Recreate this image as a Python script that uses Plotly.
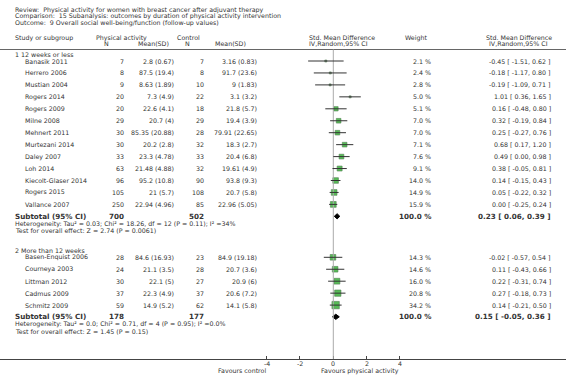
import plotly.graph_objects as go

# ---------------- data ----------------
titles = [
    "Review:  Physical activity for women with breast cancer after adjuvant therapy",
    "Comparison:  15 Subanalysis: outcomes by duration of physical activity intervention",
    "Outcome:  9 Overall social well-being/function (follow-up values)",
]

g1_name = "1 12 weeks or less"
g1_studies = ["Banasik 2011", "Herrero 2006", "Mustian 2004", "Rogers 2014", "Rogers 2009",
              "Milne 2008", "Mehnert 2011", "Murtezani 2014", "Daley 2007", "Loh 2014",
              "Kiecolt-Glaser 2014", "Rogers 2015", "Vallance 2007"]
g1_pa_n = [7, 8, 9, 20, 20, 29, 30, 30, 33, 63, 96, 105, 250]
g1_pa_msd = ["2.8 (0.67)", "87.5 (19.4)", "8.63 (1.89)", "7.3 (4.9)", "22.6 (4.1)", "20.7 (4)",
             "85.35 (20.88)", "20.2 (2.8)", "23.3 (4.78)", "21.48 (4.88)", "95.2 (10.8)",
             "21 (5.7)", "22.94 (4.96)"]
g1_c_n = [7, 8, 10, 22, 18, 29, 28, 32, 33, 32, 90, 108, 85]
g1_c_msd = ["3.16 (0.83)", "91.7 (23.6)", "9 (1.83)", "3.1 (3.2)", "21.8 (5.7)", "19.4 (3.9)",
            "79.91 (22.65)", "18.3 (2.7)", "20.4 (6.8)", "19.61 (4.9)", "93.8 (9.3)",
            "20.7 (5.8)", "22.96 (5.05)"]
g1_weight = [2.1, 2.4, 2.8, 5.0, 5.1, 7.0, 7.0, 7.1, 7.6, 9.1, 14.0, 14.9, 15.9]
g1_est = [-0.45, -0.18, -0.19, 1.01, 0.16, 0.32, 0.25, 0.68, 0.49, 0.38, 0.14, 0.05, 0.00]
g1_lo = [-1.51, -1.17, -1.09, 0.36, -0.48, -0.19, -0.27, 0.17, 0.00, -0.05, -0.15, -0.22, -0.25]
g1_hi = [0.62, 0.80, 0.71, 1.65, 0.80, 0.84, 0.76, 1.20, 0.98, 0.81, 0.43, 0.32, 0.24]
g1_tot = {"pa_n": 700, "c_n": 502, "est": 0.23, "lo": 0.06, "hi": 0.39}
g1_het = "Heterogeneity: Tau² = 0.03; Chi² = 18.26, df = 12 (P = 0.11); I² =34%"
g1_test = "Test for overall effect: Z = 2.74 (P = 0.0061)"

g2_name = "2 More than 12 weeks"
g2_studies = ["Basen-Enquist 2006", "Courneya 2003", "Littman 2012", "Cadmus 2009", "Schmitz 2009"]
g2_pa_n = [28, 24, 30, 37, 59]
g2_pa_msd = ["84.6 (16.93)", "21.1 (3.5)", "22.1 (5)", "22.3 (4.9)", "14.9 (5.2)"]
g2_c_n = [23, 28, 27, 37, 62]
g2_c_msd = ["84.9 (19.18)", "20.7 (3.6)", "20.9 (6)", "20.6 (7.2)", "14.1 (5.8)"]
g2_weight = [14.3, 14.6, 16.0, 20.8, 34.2]
g2_est = [-0.02, 0.11, 0.22, 0.27, 0.14]
g2_lo = [-0.57, -0.43, -0.31, -0.18, -0.21]
g2_hi = [0.54, 0.66, 0.74, 0.73, 0.50]
g2_tot = {"pa_n": 178, "c_n": 177, "est": 0.15, "lo": -0.05, "hi": 0.36}
g2_het = "Heterogeneity: Tau² = 0.0; Chi² = 0.71, df = 4 (P = 0.95); I² =0.0%"
g2_test = "Test for overall effect: Z = 1.45 (P = 0.15)"

tick_vals = [-4, -2, 0, 2, 4]
tick_text = ["-4", "-2", "0", "2", "4"]
fav_left = "Favours control"
fav_right = "Favours physical activity"

# ---------------- layout constants (pixels) ----------------
W, H = 566, 389
PLOT_BOTTOM = 359
FONT = "DejaVu Sans"
FS = 6.3
FSB = 7.2
TXT = "#333333"

# x columns (px)
X_NAME_G = 13
X_NAME = 23
X_PA_N = 126
X_PA_M = 176
X_C_N = 206
X_C_M = 259
X_W = 433
X_CI = 553

# rows (px)
g1_header_y = 54.5
g1_rows = [61 + 11.95 * i for i in range(len(g1_studies))]
g1_sub_y = 216.3
g1_het_y = 223.8
g1_test_y = 230.6
g2_header_y = 250
g2_rows = [257.3 + 11.95 * i for i in range(len(g2_studies))]
g2_sub_y = 316.8
g2_het_y = 324.3
g2_test_y = 331.1

fig = go.Figure()
ann = []


def px(x):
    return x / W


def text(x, y, s, anchor="left", size=FS, bold=False, color=TXT):
    ann.append(dict(x=px(x), y=y, xref="paper", yref="y", text=("<b>%s</b>" % s) if bold else s,
                    showarrow=False, xanchor=anchor, yanchor="middle",
                    font=dict(family=FONT, size=size, color=color)))


def below(x, ypx, s, xref="paper"):
    # text placed below the plot area (paper y coordinates)
    ann.append(dict(x=x, y=(PLOT_BOTTOM - ypx) / PLOT_BOTTOM, xref=xref, yref="paper", text=s,
                    showarrow=False, xanchor="center", yanchor="middle",
                    font=dict(family=FONT, size=FS, color=TXT)))


# titles
for i, t in enumerate(titles):
    text(13, 9.5 + 6.6 * i, t)

# header
text(13, 37.5, "Study or subgroup")
text(94, 37.5, "Physical activity")
text(106, 43.5, "N", anchor="center")
text(153, 43.5, "Mean(SD)", anchor="center")
text(188.5, 37.5, "Control", anchor="center")
text(187, 43.5, "N", anchor="center")
text(230, 43.5, "Mean(SD)", anchor="center")
text(307, 37.5, "Std. Mean Difference")
text(307, 43.5, "IV,Random,95% CI")
text(416, 37.5, "Weight", anchor="center")
text(518.7, 37.5, "Std. Mean Difference", anchor="center")
text(518.7, 43.5, "IV,Random,95% CI", anchor="center")

shapes = []
shapes.append(dict(type="line", xref="paper", yref="y", x0=0, x1=1, y0=49.5, y1=49.5,
                   line=dict(color="#666666", width=1)))
# vertical line of no effect
shapes.append(dict(type="line", xref="x", yref="y", x0=0, x1=0, y0=49.5, y1=PLOT_BOTTOM,
                   line=dict(color="#aaaaaa", width=1)))


def add_group(name, header_y, rows, studies, pa_n, pa_msd, c_n, c_msd, weight, est, lo, hi,
              tot, sub_y, het, het_y, test, test_y):
    text(X_NAME_G, header_y, name)
    for i, r in enumerate(rows):
        text(X_NAME, r, studies[i])
        text(X_PA_N, r, str(pa_n[i]), anchor="right")
        text(X_PA_M, r, pa_msd[i], anchor="right")
        text(X_C_N, r, str(c_n[i]), anchor="right")
        text(X_C_M, r, c_msd[i], anchor="right")
        text(X_W, r, "%.1f %%" % weight[i], anchor="right")
        text(X_CI, r, "%.2f [ %.2f, %.2f ]" % (est[i], lo[i], hi[i]), anchor="right")
        shapes.append(dict(type="line", xref="x", yref="y", x0=lo[i], x1=hi[i], y0=r, y1=r,
                           line=dict(color="#333333", width=1)))
    # squares
    sizes = [2 if w <= 5.0 else 2.4 + 0.85 * w ** 0.5 for w in weight]
    colors = ["#555555" if w <= 5.0 else "#11a011" for w in weight]
    fig.add_trace(go.Scatter(x=est, y=rows, mode="markers", hoverinfo="skip",
                             marker=dict(symbol="square", size=sizes, color=colors,
                                         line=dict(color="#0a4a0a", width=0.6))))
    # subtotal
    text(X_NAME_G, sub_y, "Subtotal (95% CI)", size=FSB, bold=True)
    text(X_PA_N, sub_y, str(tot["pa_n"]), anchor="right", size=FSB, bold=True)
    text(X_C_N, sub_y, str(tot["c_n"]), anchor="right", size=FSB, bold=True)
    text(X_W, sub_y, "100.0 %", anchor="right", size=FSB, bold=True)
    text(X_CI, sub_y, "%.2f [ %.2f, %.2f ]" % (tot["est"], tot["lo"], tot["hi"]),
         anchor="right", size=FSB, bold=True)
    h = 2.6
    fig.add_trace(go.Scatter(x=[tot["lo"], tot["est"], tot["hi"], tot["est"], tot["lo"]],
                             y=[sub_y, sub_y - h, sub_y, sub_y + h, sub_y],
                             mode="lines", fill="toself", fillcolor="#000000",
                             line=dict(color="#000000", width=1), hoverinfo="skip"))
    text(X_NAME_G, het_y, het)
    text(X_NAME_G, test_y, test)


add_group(g1_name, g1_header_y, g1_rows, g1_studies, g1_pa_n, g1_pa_msd, g1_c_n, g1_c_msd,
          g1_weight, g1_est, g1_lo, g1_hi, g1_tot, g1_sub_y, g1_het, g1_het_y, g1_test, g1_test_y)
add_group(g2_name, g2_header_y, g2_rows, g2_studies, g2_pa_n, g2_pa_msd, g2_c_n, g2_c_msd,
          g2_weight, g2_est, g2_lo, g2_hi, g2_tot, g2_sub_y, g2_het, g2_het_y, g2_test, g2_test_y)

# tick labels just under the axis line
for v, t in zip(tick_vals, tick_text):
    below(v, 363, t, xref="x")

# favours labels
below(px(241.7), 370.5, fav_left)
below(px(360), 370.5, fav_right)

# x range: 0 at 333.3 px, 16.67 px per unit
scale = 16.67
x0px = 333.3
xr = [-x0px / scale, (W - x0px) / scale]

fig.update_layout(
    width=W, height=H,
    margin=dict(l=0, r=0, t=0, b=H - PLOT_BOTTOM),
    paper_bgcolor="white", plot_bgcolor="white",
    showlegend=False,
    annotations=ann, shapes=shapes,
    xaxis=dict(range=xr, tickvals=tick_vals, showticklabels=False, showgrid=False,
               zeroline=False, showline=True, linecolor="#444444", linewidth=1,
               ticks="inside", ticklen=3, tickcolor="#444444", fixedrange=True),
    yaxis=dict(range=[PLOT_BOTTOM, 0], visible=False, fixedrange=True),
)

fig.write_html("out.html", config={"displayModeBar": False},
               post_script="document.body.style.margin='0';document.body.style.overflow='hidden';")
